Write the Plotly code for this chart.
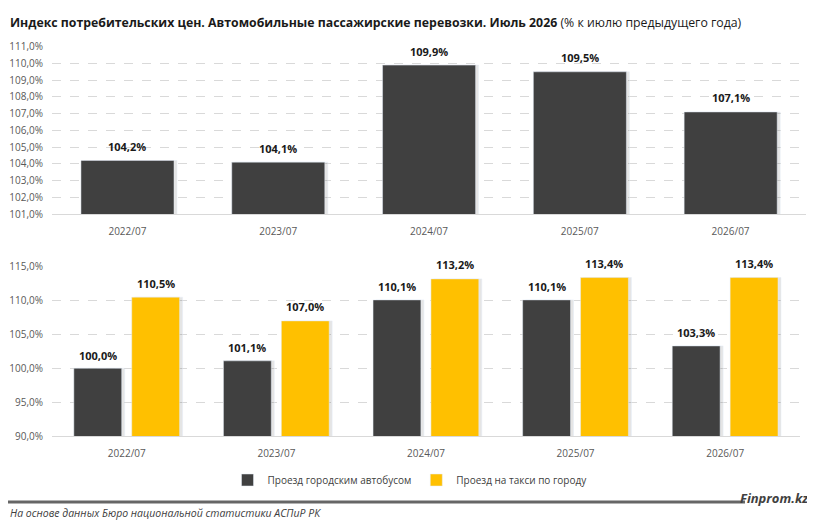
import plotly.graph_objects as go

# данные
periods = ["2022/07", "2023/07", "2024/07", "2025/07", "2026/07"]
cpi_auto = [104.2, 104.1, 109.9, 109.5, 107.1]
bus = [100.0, 101.1, 110.1, 110.1, 103.3]
taxi = [110.5, 107.0, 113.2, 113.4, 113.4]

top_ticks = [101, 102, 103, 104, 105, 106, 107, 108, 109, 110, 111]
bottom_ticks = [90, 95, 100, 105, 110, 115]

DARK = "#404040"
YELLOW = "#FFC000"
SHADOW = "rgba(0,0,0,0.10)"
FONT = "Open Sans"
W, H = 815, 527
PAD = 8  # отступ body в браузере
FW, FH = W - PAD, H - PAD


def px_x(v):
    return max(v - PAD, 0) / FW


def px_y(v):
    return 1 - (v - PAD) / FH


def pct(v):
    return f"{v:.1f}%".replace(".", ",")


fig = go.Figure()

# тени под столбцами
fig.add_trace(go.Bar(x=periods, y=cpi_auto, marker_color=SHADOW, width=0.617, offset=-0.288,
                     xaxis="x", yaxis="y", showlegend=False, hoverinfo="skip"))
fig.add_trace(go.Bar(x=periods, y=bus, marker_color=SHADOW, width=0.32, offset=-0.334,
                     xaxis="x2", yaxis="y2", showlegend=False, hoverinfo="skip"))
fig.add_trace(go.Bar(x=periods, y=taxi, marker_color=SHADOW, width=0.32, offset=0.053,
                     xaxis="x2", yaxis="y2", showlegend=False, hoverinfo="skip"))

fig.add_trace(go.Bar(
    x=periods, y=cpi_auto, marker_color=DARK, width=0.617, offset=-0.308,
    xaxis="x", yaxis="y", showlegend=False,
))
fig.add_trace(go.Bar(
    x=periods, y=bus, marker_color=DARK, name="Проезд городским автобусом",
    width=0.32, offset=-0.354, xaxis="x2", yaxis="y2",
))
fig.add_trace(go.Bar(
    x=periods, y=taxi, marker_color=YELLOW, name="Проезд на такси по городу",
    width=0.32, offset=0.033, xaxis="x2", yaxis="y2",
))

# подписи значений
lbl_font = dict(family=FONT, size=11, color="#1a1a1a", weight="bold")
for p, v in zip(periods, cpi_auto):
    fig.add_annotation(x=p, y=v, xref="x", yref="y", text=pct(v), showarrow=False,
                       yshift=14, font=lbl_font)
for i, v in enumerate(bus):
    fig.add_annotation(x=i - 0.194, y=v, xref="x2", yref="y2", text=pct(v), showarrow=False,
                       yshift=13, font=lbl_font)
for i, v in enumerate(taxi):
    fig.add_annotation(x=i + 0.193, y=v, xref="x2", yref="y2", text=pct(v), showarrow=False,
                       yshift=14, font=lbl_font)

axis_font = dict(family=FONT, size=10, color="#595959")
grid = dict(showgrid=True, gridcolor="#d9d9d9", griddash="dash", gridwidth=1)

fig.update_layout(
    width=FW, height=FH,
    margin=dict(l=0, r=0, t=0, b=0),
    plot_bgcolor="white", paper_bgcolor="white",
    barmode="overlay",
    font=dict(family=FONT),
    xaxis=dict(domain=[px_x(52), px_x(806)], anchor="y", tickfont=axis_font, automargin=False,
               showline=True, linecolor="#d9d9d9", ticks="", ticklabelstandoff=8),
    yaxis=dict(domain=[px_y(214), px_y(46.7)], anchor="x", range=[101, 111], automargin=False,
               tickvals=top_ticks, ticktext=[pct(t) for t in top_ticks],
               tickfont=axis_font, ticklabelstandoff=8, zeroline=False, **grid),
    xaxis2=dict(domain=[px_x(52), px_x(800)], anchor="y2", tickfont=axis_font, automargin=False,
                showline=True, linecolor="#d9d9d9", ticks="", ticklabelstandoff=8),
    yaxis2=dict(domain=[px_y(436), px_y(266.7)], anchor="x2", range=[90, 115], automargin=False,
                tickvals=bottom_ticks, ticktext=[pct(t) for t in bottom_ticks],
                tickfont=axis_font, ticklabelstandoff=8, zeroline=False, **grid),
    legend=dict(orientation="h", x=px_x(410), xanchor="center", y=px_y(480), yanchor="middle",
                font=dict(family=FONT, size=10, color="#404040"), itemwidth=30),
)

fig.add_annotation(
    x=px_x(7), y=px_y(22), xref="paper", yref="paper", xanchor="left", yanchor="middle",
    showarrow=False, font=dict(family=FONT, size=12.3, color="#1a1a1a"),
    text="<b>Индекс потребительских цен. Автомобильные пассажирские перевозки. Июль 2026</b> (% к июлю предыдущего года)",
)

# подвал
fig.add_shape(type="line", xref="paper", yref="paper", x0=0, x1=px_x(745),
              y0=px_y(502), y1=px_y(502), line=dict(color="#666666", width=3))
fig.add_annotation(
    x=px_x(811), y=px_y(498), xref="paper", yref="paper", xanchor="right", yanchor="middle",
    showarrow=False, text="<b><i>Finprom.kz</i></b>", font=dict(family=FONT, size=13, color="#404040"),
)
fig.add_annotation(
    x=0, y=px_y(513), xref="paper", yref="paper", xanchor="left", yanchor="middle",
    showarrow=False, text="<i>На основе данных Бюро национальной статистики АСПиР РК</i>",
    font=dict(family=FONT, size=10.5, color="#404040"),
)

fig.write_html("out.html")
